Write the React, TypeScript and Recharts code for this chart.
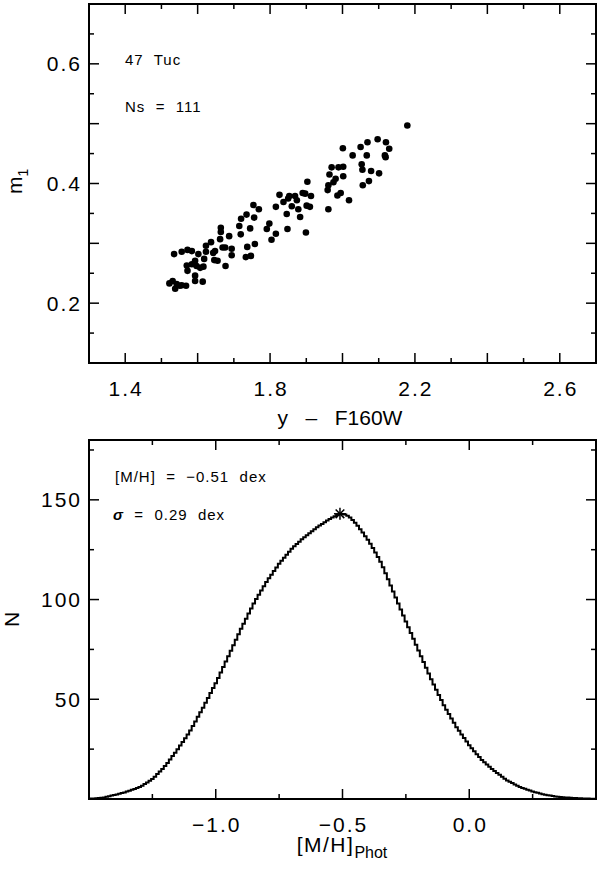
import React from "react";
import {
  ComposedChart,
  Label,
  Line,
  ReferenceArea,
  Scatter,
  ScatterChart,
  XAxis,
  YAxis,
} from "recharts";

// top panel: 47 Tuc stars, m1 vs (y - F160W)
const colorYF160W = [
  1.522, 1.531, 1.538, 1.542, 1.551, 1.556, 1.568, 1.535, 1.556, 1.572,
  1.584, 1.572, 1.57, 1.584, 1.593, 1.597, 1.593, 1.593, 1.614, 1.602,
  1.607, 1.616, 1.618, 1.623, 1.623, 1.637, 1.643, 1.648, 1.646, 1.655,
  1.662, 1.664, 1.664, 1.669, 1.676, 1.677, 1.687, 1.694, 1.694, 1.715,
  1.719, 1.72, 1.733, 1.735, 1.737, 1.745, 1.747, 1.754, 1.756, 1.758,
  1.769, 1.791, 1.798, 1.804, 1.816, 1.816, 1.826, 1.837, 1.846, 1.848,
  1.85, 1.853, 1.86, 1.869, 1.874, 1.878, 1.883, 1.899, 1.89, 1.897,
  1.903, 1.913, 1.901, 1.91, 1.961, 1.959, 1.961, 1.964, 1.97, 1.975,
  1.981, 1.986, 1.989, 1.995, 2.002, 2.002, 2.001, 2.018, 2.028, 2.05,
  2.053, 2.055, 2.056, 2.067, 2.069, 2.073, 2.079, 2.097, 2.101, 2.117,
  2.119, 2.12, 2.129, 2.179,
];
const m1Index = [
  0.233, 0.237, 0.224, 0.232, 0.229, 0.23, 0.229, 0.282, 0.286, 0.289,
  0.287, 0.254, 0.263, 0.265, 0.271, 0.262, 0.246, 0.237, 0.236, 0.282,
  0.259, 0.261, 0.274, 0.286, 0.296, 0.302, 0.284, 0.287, 0.272, 0.271,
  0.307, 0.326, 0.319, 0.293, 0.293, 0.262, 0.312, 0.291, 0.28, 0.329,
  0.315, 0.341, 0.277, 0.348, 0.294, 0.325, 0.279, 0.364, 0.343, 0.299,
  0.357, 0.324, 0.333, 0.306, 0.316, 0.361, 0.381, 0.369, 0.349, 0.324,
  0.375, 0.379, 0.362, 0.379, 0.372, 0.357, 0.344, 0.318, 0.384, 0.383,
  0.403, 0.379, 0.363, 0.361, 0.357, 0.389, 0.397, 0.415, 0.427, 0.402,
  0.408, 0.38, 0.427, 0.384, 0.428, 0.412, 0.459, 0.372, 0.447, 0.461,
  0.432, 0.423, 0.397, 0.447, 0.469, 0.404, 0.421, 0.474, 0.417, 0.447,
  0.444, 0.469, 0.458, 0.497,
];

// bottom panel: [M/H] distribution, bins of 0.01 dex starting at -1.50
const mhStart = -1.5;
const mhStep = 0.01;
const mhCounts = [
  0.2, 0.25, 0.3, 0.4, 0.5, 0.6, 0.8, 1.1, 1.4, 1.7,
  2.0, 2.3, 2.6, 3.0, 3.3, 3.7, 4.1, 4.6, 5.0, 5.5,
  6.0, 6.7, 7.5, 8.3, 9.1, 10.0, 11.2, 12.5, 13.8, 15.1,
  16.5, 18.1, 19.8, 21.5, 23.2, 25.0, 26.8, 28.6, 30.5, 32.4,
  34.4, 36.6, 38.9, 41.2, 43.5, 45.8, 48.2, 50.7, 53.1, 55.6,
  58.0, 60.7, 63.4, 66.2, 68.9, 71.6, 74.3, 77.1, 79.8, 82.6,
  85.3, 87.9, 90.4, 93.0, 95.5, 98.0, 100.3, 102.4, 104.6, 106.7,
  108.8, 110.7, 112.5, 114.3, 116.1, 117.9, 119.5, 121.0, 122.5, 124.0,
  125.5, 126.7, 127.9, 129.0, 130.2, 131.3, 132.3, 133.3, 134.3, 135.3,
  136.2, 137.1, 137.9, 138.8, 139.6, 140.4, 141.1, 141.8, 142.4, 142.9,
  142.9, 142.6, 142.0, 141.1, 139.9, 138.5, 137.0, 135.3, 133.6, 131.8,
  130.0, 128.0, 125.9, 123.6, 121.3, 119.0, 116.2, 113.2, 110.2, 107.1,
  104.0, 101.0, 98.0, 95.0, 92.0, 89.0, 86.1, 83.2, 80.3, 77.4,
  74.5, 71.6, 68.7, 65.8, 62.9, 60.0, 57.4, 54.8, 52.2, 49.6,
  47.0, 44.8, 42.6, 40.4, 38.2, 36.0, 34.2, 32.4, 30.6, 28.8,
  27.0, 25.5, 24.0, 22.5, 21.0, 19.5, 18.4, 17.3, 16.2, 15.1,
  14.0, 13.0, 12.1, 11.2, 10.2, 9.3, 8.6, 8.0, 7.3, 6.7,
  6.0, 5.5, 5.1, 4.6, 4.2, 3.7, 3.4, 3.1, 2.7, 2.4,
  2.1, 1.9, 1.7, 1.5, 1.3, 1.1, 1.0, 0.9, 0.8, 0.7,
  0.6, 0.5, 0.45, 0.4, 0.35, 0.3, 0.25, 0.2, 0.15, 0.1,
  0.1,
];
const peakMH = [-0.51];
const peakN = [143];

// ticks
const topXMajor = [1.4, 1.6, 1.8, 2.0, 2.2, 2.4, 2.6];
const topXMinor = [1.5, 1.7, 1.9, 2.1, 2.3, 2.5];
const topXLabels = [1.4, 1.8, 2.2, 2.6];
const topYMajor = [0.2, 0.3, 0.4, 0.5, 0.6];
const topYMinor = [0.15, 0.25, 0.35, 0.45, 0.55, 0.65];
const topYLabels = [0.2, 0.4, 0.6];
const botXMajor = [-1.0, -0.5, 0.0];
const botXMinor = [-1.25, -0.75, -0.25, 0.25];
const botXLabels = [-1.0, -0.5, 0.0];
const botYMajor = [50, 100, 150];
const botYMinor = [25, 75, 125, 175];
const botYLabels = [50, 100, 150];

const starData = colorYF160W.map((x, i) => ({ x, y: m1Index[i] }));
const histData = mhCounts.map((n, i) => ({
  x: Math.round((mhStart + i * mhStep) * 100) / 100,
  n,
}));
const peakData = peakMH.map((x, i) => ({ x, n: peakN[i] }));

const W = 600;
const H = 433;
const Y_AXIS_W = 60;
const X_AXIS_H = 40;
const MARGIN = { top: 4, right: 4, bottom: 30, left: 29 };
const PLOT_W = W - MARGIN.left - MARGIN.right - Y_AXIS_W;
const PLOT_H = H - MARGIN.top - MARGIN.bottom - X_AXIS_H;
const FONT = "'Liberation Sans', Arial, sans-serif";
const INK = "#000";

const sortNums = (a: number[]) => [...a].sort((p, q) => p - q);

const fmtFixed = (v: number) =>
  v < 0 ? "\u2212" + Math.abs(v).toFixed(1) : v.toFixed(1);

function makeXTick(majors: number[], labels: number[], fmt: (v: number) => string) {
  return (props: any) => {
    const { x, y, payload } = props;
    const v = payload.value;
    const len = majors.includes(v) ? 10 : 5;
    return (
      <g>
        <line x1={x} y1={y} x2={x} y2={y - len} stroke={INK} strokeWidth={1.5} />
        <line
          x1={x}
          y1={y - PLOT_H}
          x2={x}
          y2={y - PLOT_H + len}
          stroke={INK}
          strokeWidth={1.5}
        />
        {labels.includes(v) && (
          <text
            x={x + 1}
            y={y + 33}
            textAnchor="middle"
            fontFamily={FONT}
            fontSize={21}
            letterSpacing={2}
            fill={INK}
          >
            {fmt(v)}
          </text>
        )}
      </g>
    );
  };
}

function makeYTick(majors: number[], labels: number[], fmt: (v: number) => string) {
  return (props: any) => {
    const { x, y, payload } = props;
    const v = payload.value;
    const len = majors.includes(v) ? 10 : 5;
    return (
      <g>
        <line x1={x} y1={y} x2={x + len} y2={y} stroke={INK} strokeWidth={1.5} />
        <line
          x1={x + PLOT_W}
          y1={y}
          x2={x + PLOT_W - len}
          y2={y}
          stroke={INK}
          strokeWidth={1.5}
        />
        {labels.includes(v) && (
          <text
            x={x - 7}
            y={y + 7.5}
            textAnchor="end"
            fontFamily={FONT}
            fontSize={21}
            letterSpacing={2}
            fill={INK}
          >
            {fmt(v)}
          </text>
        )}
      </g>
    );
  };
}

const Dot = (props: any) => <circle cx={props.cx} cy={props.cy} r={3.3} fill={INK} />;

const Asterisk = (props: any) => {
  const { cx, cy } = props;
  const r = 6;
  const d = r * 0.72;
  return (
    <g stroke={INK} strokeWidth={1.5}>
      <line x1={cx} y1={cy - r} x2={cx} y2={cy + r} />
      <line x1={cx - r} y1={cy} x2={cx + r} y2={cy} />
      <line x1={cx - d} y1={cy - d} x2={cx + d} y2={cy + d} />
      <line x1={cx - d} y1={cy + d} x2={cx + d} y2={cy - d} />
    </g>
  );
};

const annot = {
  fontFamily: FONT,
  fontSize: 15,
  letterSpacing: 1,
  fill: INK,
  style: { whiteSpace: "pre" as const },
};

const TopChart = () => (
  <ScatterChart width={W} height={H} margin={MARGIN}>
    <XAxis
      type="number"
      dataKey="x"
      domain={[1.3, 2.7]}
      ticks={sortNums([...topXMajor, ...topXMinor])}
      interval={0}
      tickSize={0}
      tickMargin={0}
      axisLine={false}
      tickLine={false}
      height={X_AXIS_H}
      allowDataOverflow
      tick={makeXTick(topXMajor, topXLabels, (v) => v.toFixed(1))}
    >
      <Label
        content={() => (
          <text x={340} y={425} textAnchor="middle" fontFamily={FONT} fontSize={21} fill={INK} style={{ whiteSpace: "pre" }}>
            {"y   \u2013   F160W"}
          </text>
        )}
      />
    </XAxis>
    <YAxis
      type="number"
      dataKey="y"
      domain={[0.1, 0.7]}
      ticks={sortNums([...topYMajor, ...topYMinor])}
      interval={0}
      tickSize={0}
      tickMargin={0}
      axisLine={false}
      tickLine={false}
      width={Y_AXIS_W}
      allowDataOverflow
      tick={makeYTick(topYMajor, topYLabels, (v) => v.toFixed(1))}
    >
      <Label
        content={() => (
          <text
            transform="translate(22,194) rotate(-90)"
            fontFamily={FONT}
            fontSize={21}
            fill={INK}
          >
            m<tspan fontSize={14} dy={6}>1</tspan>
          </text>
        )}
      />
      <Label
        content={() => (
          <g>
            <text x={125} y={65} {...annot}>{"47  Tuc"}</text>
            <text x={125} y={112} {...annot}>{"Ns  =  111"}</text>
          </g>
        )}
      />
    </YAxis>
    <ReferenceArea x1={1.3} x2={2.7} y1={0.1} y2={0.7} fill="none" stroke={INK} strokeWidth={2} />
    <Scatter data={starData} shape={Dot} isAnimationActive={false} />
  </ScatterChart>
);

const BottomChart = () => (
  <ComposedChart width={W} height={H} margin={MARGIN} data={histData}>
    <XAxis
      type="number"
      dataKey="x"
      domain={[-1.5, 0.5]}
      ticks={sortNums([...botXMajor, ...botXMinor])}
      interval={0}
      tickSize={0}
      tickMargin={0}
      axisLine={false}
      tickLine={false}
      height={X_AXIS_H}
      allowDataOverflow
      tick={makeXTick(botXMajor, botXLabels, fmtFixed)}
    >
      <Label
        content={() => (
          <text x={342} y={416} textAnchor="middle" fontFamily={FONT} fill={INK}>
            <tspan fontSize={21} letterSpacing={1.5}>[M/H]</tspan>
            <tspan fontSize={16} dy={6}>Phot</tspan>
          </text>
        )}
      />
    </XAxis>
    <YAxis
      type="number"
      dataKey="n"
      domain={[0, 180]}
      ticks={sortNums([...botYMajor, ...botYMinor])}
      interval={0}
      tickSize={0}
      tickMargin={0}
      axisLine={false}
      tickLine={false}
      width={Y_AXIS_W}
      allowDataOverflow
      tick={makeYTick(botYMajor, botYLabels, (v) => String(v))}
    >
      <Label
        content={() => (
          <text transform="translate(19,191) rotate(-90)" fontFamily={FONT} fontSize={21} fill={INK}>
            N
          </text>
        )}
      />
      <Label
        content={() => (
          <g>
            <text x={115} y={46} {...annot}>{"[M/H]  =  \u22120.51  dex"}</text>
            <text x={113} y={84} {...annot}>
              <tspan fontStyle="italic" fontWeight="bold">{"\u03c3"}</tspan>
              {"  =  0.29  dex"}
            </text>
          </g>
        )}
      />
    </YAxis>
    <ReferenceArea x1={-1.5} x2={0.5} y1={0} y2={180} fill="none" stroke={INK} strokeWidth={2} />
    <Line
      dataKey="n"
      type="step"
      stroke={INK}
      strokeWidth={2}
      dot={false}
      isAnimationActive={false}
    />
    <Scatter data={peakData} dataKey="n" shape={Asterisk} isAnimationActive={false} />
  </ComposedChart>
);

export default function App() {
  return (
    <div style={{ position: "absolute", left: 0, top: 0, width: W, height: 869, background: "#fff" }}>
      <div style={{ position: "absolute", left: 0, top: 0 }}>
        <TopChart />
      </div>
      <div style={{ position: "absolute", left: 0, top: 436 }}>
        <BottomChart />
      </div>
    </div>
  );
}
